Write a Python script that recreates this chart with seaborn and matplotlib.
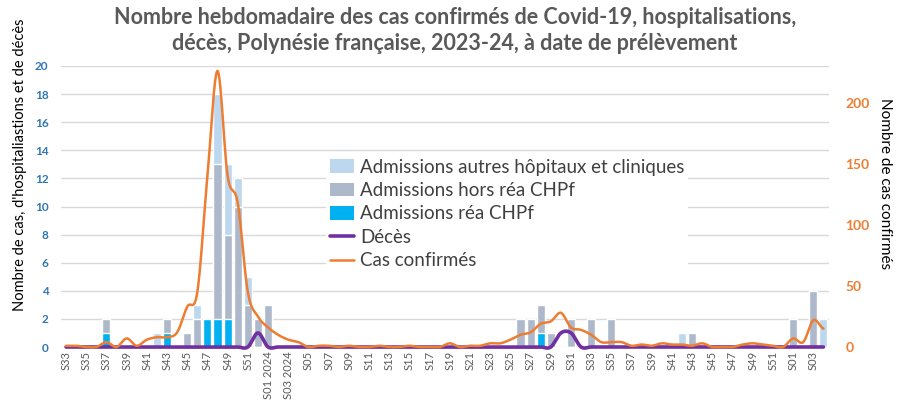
import numpy as np
import pandas as pd
import matplotlib
matplotlib.use("Agg")
import matplotlib.pyplot as plt
import seaborn as sns
from matplotlib.patches import Patch
from matplotlib.lines import Line2D

# ---------------- data ----------------
weeks = ([f"2023-S{w:02d}" for w in range(33, 53)]
         + [f"2024-S{w:02d}" for w in range(1, 53)]
         + [f"2025-S{w:02d}" for w in range(1, 5)])

tick_labels = (["S33", "S35", "S37", "S39", "S41", "S43", "S45", "S47", "S49", "S51",
                "S01 2024", "S03 2024"]
               + ["S05", "S07", "S09", "S11", "S13", "S15", "S17", "S19", "S21", "S23",
                  "S25", "S27", "S29", "S31", "S33", "S35", "S37", "S39", "S41", "S43",
                  "S45", "S47", "S49", "S51"]
               + ["S01", "S03"])

rea_chpf = [0, 0, 0, 0, 1, 0, 0, 0, 0, 0,
            1, 0, 0, 0, 2, 2, 2, 0, 0, 0,
            0, 0, 0, 0, 0, 0, 0, 0, 0, 0,
            0, 0, 0, 0, 0, 0, 0, 0, 0, 0,
            0, 0, 0, 0, 0, 0, 0, 1, 0, 0,
            0, 0, 0, 0, 0, 0, 0, 0, 0, 0,
            0, 0, 0, 0, 0, 0, 0, 0, 0, 0,
            0, 0, 0, 0, 0, 0]

hors_rea_chpf = [0, 0, 0, 0, 1, 0, 0, 0, 0, 0,
                 1, 0, 1, 2, 0, 11, 6, 10, 3, 2,
                 3, 0, 0, 0, 0, 0, 0, 0, 0, 0,
                 0, 0, 0, 0, 0, 0, 0, 0, 0, 0,
                 0, 0, 0, 0, 0, 2, 2, 2, 1, 0,
                 2, 0, 2, 0, 2, 0, 0, 0, 0, 0,
                 0, 0, 1, 0, 0, 0, 0, 0, 0, 0,
                 0, 0, 2, 0, 4, 0]

autres_hopitaux = [0, 0, 0, 0, 0, 0, 0, 0, 0, 1,
                   0, 0, 0, 1, 0, 5, 5, 2, 2, 0,
                   0, 0, 0, 0, 0, 0, 0, 0, 0, 0,
                   0, 0, 0, 0, 0, 0, 0, 0, 0, 0,
                   0, 0, 0, 0, 0, 0, 0, 0, 0, 0,
                   0, 0, 0, 0, 0, 0, 0, 0, 0, 0,
                   0, 1, 0, 0, 0, 0, 0, 0, 0, 0,
                   0, 0, 0, 0, 0, 2]

deces = [0, 0, 0, 0, 0, 0, 0, 0, 0, 0,
         0, 0, 0, 0, 0, 0, 0, 0, 0, 1,
         0, 0, 0, 0, 0, 0, 0, 0, 0, 0,
         0, 0, 0, 0, 0, 0, 0, 0, 0, 0,
         0, 0, 0, 0, 0, 0, 0, 0, 0, 1,
         1, 0, 0, 0, 0, 0, 0, 0, 0, 0,
         0, 0, 0, 0, 0, 0, 0, 0, 0, 0,
         0, 0, 0, 0, 0, 0]

cas_confirmes = [1, 1, 0, 0, 4, 0, 7, 1, 6, 8,
                 8, 12, 33, 45, 140, 226, 140, 118, 45, 25,
                 16, 10, 6, 4, 0, 1, 1, 0, 1, 0,
                 0, 1, 0, 0, 1, 0, 0, 0, 3, 0,
                 1, 1, 3, 3, 6, 10, 12, 19, 21, 28,
                 16, 14, 10, 4, 4, 4, 1, 2, 1, 3,
                 2, 2, 1, 3, 0, 0, 0, 2, 3, 2,
                 1, 0, 7, 4, 22, 15]

# ---------------- styles ----------------
C_AUTRES = "#BDD7EE"
C_HORS = "#ADB9CA"
C_REA = "#00B0F0"
C_DECES = "#7030A0"
C_CAS = "#ED7D31"
C_TXT = "#595959"

sns.set_theme(style="white")
plt.rcParams["font.family"] = ["Lato", "DejaVu Sans"]


def excel_smooth(values, n=24):
    """Catmull-Rom style smoothing (as Excel 'smoothed line') for display."""
    y = np.asarray(values, float)
    N = len(y)
    m = np.zeros(N)
    m[1:-1] = (y[2:] - y[:-2]) / 2.0
    m[0] = (y[1] - y[0]) / 2.0
    m[-1] = (y[-1] - y[-2]) / 2.0
    t = np.linspace(0, 1, n, endpoint=False)
    h00 = 2 * t**3 - 3 * t**2 + 1
    h10 = t**3 - 2 * t**2 + t
    h01 = -2 * t**3 + 3 * t**2
    h11 = t**3 - t**2
    xs, ys = [], []
    for i in range(N - 1):
        xs.append(i + t)
        ys.append(h00 * y[i] + h10 * m[i] + h01 * y[i + 1] + h11 * m[i + 1])
    xs.append(np.array([N - 1.0]))
    ys.append(np.array([y[-1]]))
    return np.concatenate(xs), np.concatenate(ys)


df = pd.DataFrame({
    "week": weeks,
    "rea": rea_chpf,
    "hors": hors_rea_chpf,
    "autres": autres_hopitaux,
})
df["lvl2"] = df["rea"] + df["hors"]
df["lvl3"] = df["lvl2"] + df["autres"]

fig = plt.figure(figsize=(9.05, 4.0), dpi=100)
ax = fig.add_axes([61 / 905, 1 - 347 / 400, (828.5 - 61) / 905, (347 - 66) / 400])

sns.barplot(data=df, x="week", y="lvl3", order=weeks, color=C_AUTRES, saturation=1,
            width=0.8, ax=ax, zorder=2)
sns.barplot(data=df, x="week", y="lvl2", order=weeks, color=C_HORS, saturation=1,
            width=0.8, ax=ax, zorder=2)
sns.barplot(data=df, x="week", y="rea", order=weeks, color=C_REA, saturation=1,
            width=0.8, ax=ax, zorder=2)

dx, dy = excel_smooth(deces)
sns.lineplot(x=dx, y=dy, ax=ax, color=C_DECES, lw=2.6, sort=False, estimator=None,
             zorder=3, clip_on=False)

ax.set_ylim(0, 20)
ax.set_xlim(-0.5, len(weeks) - 0.5)
ax.set_yticks(range(0, 21, 2))
ax.yaxis.grid(True, color="#D9D9D9", lw=1.0)
ax.xaxis.grid(False)
ax.set_axisbelow(True)
for s in ax.spines.values():
    s.set_visible(False)
ax.set_xlabel("")
ax.set_ylabel("")
ax.set_xticks(range(0, len(weeks), 2))
ax.set_xticklabels(tick_labels, rotation=90, fontsize=8, color=C_TXT)
ax.tick_params(axis="x", length=0, pad=3)
ax.tick_params(axis="y", length=0, pad=9, labelsize=8.5, labelcolor="#2F75B5")
for lab in ax.get_yticklabels():
    lab.set_fontweight("bold")

ax2 = ax.twinx()
cx, cy = excel_smooth(cas_confirmes)
sns.lineplot(x=cx, y=cy, ax=ax2, color=C_CAS, lw=1.8, sort=False, estimator=None,
             zorder=4, clip_on=False)
ax2.set_ylim(0, 230)
ax2.set_yticks([0, 50, 100, 150, 200])
ax2.set_xlim(-0.5, len(weeks) - 0.5)
for s in ax2.spines.values():
    s.set_visible(False)
ax2.grid(False)
ax2.set_ylabel("")
ax2.tick_params(axis="y", length=0, pad=12, labelsize=10, labelcolor=C_CAS)
for lab in ax2.get_yticklabels():
    lab.set_fontweight("bold")

handles = [
    Patch(facecolor=C_AUTRES, edgecolor="none", label="Admissions autres hôpitaux et cliniques"),
    Patch(facecolor=C_HORS, edgecolor="none", label="Admissions hors réa CHPf"),
    Patch(facecolor=C_REA, edgecolor="none", label="Admissions réa CHPf"),
    Line2D([0], [0], color=C_DECES, lw=2.6, label="Décès"),
    Line2D([0], [0], color=C_CAS, lw=1.8, label="Cas confirmés"),
]
leg = ax2.legend(handles=handles, loc="upper left",
                 bbox_to_anchor=(326 / 905, 1 - 155 / 400), bbox_transform=fig.transFigure,
                 frameon=True, facecolor="white", edgecolor="none", framealpha=1,
                 fontsize=13.5, handlelength=1.3, handleheight=0.75, handletextpad=0.3,
                 labelspacing=0.34, borderpad=0.2, borderaxespad=0, fancybox=False)
for t in leg.get_texts():
    t.set_color("#404040")

fig.text(455 / 905, 1 - 18 / 400,
         "Nombre hebdomadaire des cas confirmés de Covid-19, hospitalisations,",
         ha="center", va="center", fontsize=15.5, fontweight="bold", color=C_TXT)
fig.text(455 / 905, 1 - 44 / 400,
         "décès, Polynésie française, 2023-24, à date de prélèvement",
         ha="center", va="center", fontsize=15.5, fontweight="bold", color=C_TXT)

fig.text(20 / 905, 1 - 165 / 400, "Nombre de cas, d'hospitaliastions et de décès",
         rotation=90, ha="center", va="center", fontsize=10.5, color="black")
fig.text(885 / 905, 1 - 184 / 400, "Nombre de cas confirmés",
         rotation=270, ha="center", va="center", fontsize=11, color="black")

fig.savefig("out.png", dpi=100)
